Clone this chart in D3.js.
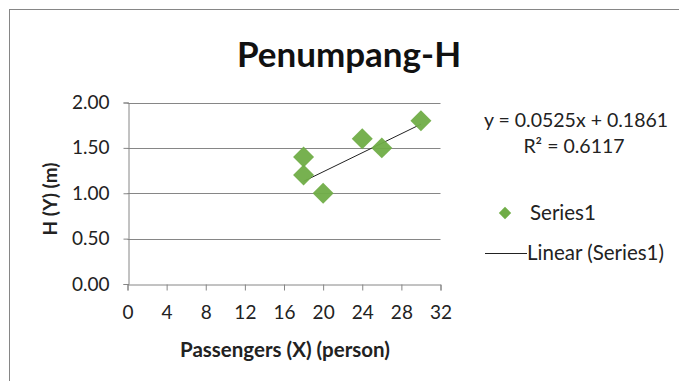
<!DOCTYPE html>
<html><head><meta charset="utf-8">
<script src="https://cdn.jsdelivr.net/npm/d3@7"></script>
<style>body{margin:0;background:#fff}svg{display:block}</style>
</head><body>
<svg id="c" width="679" height="381"></svg>
<script>
const passengers = [18, 18, 20, 24, 26, 30];
const heights = [1.4, 1.2, 1.0, 1.6, 1.5, 1.8];
const xTicks = [0, 4, 8, 12, 16, 20, 24, 28, 32];
const yTicks = [0, 0.5, 1.0, 1.5, 2.0];
const trendCoef = [0.0525, 0.1861]; // slope, intercept
const rSquared = ["0.6117"];
const trendRange = [18, 30];

const font = "Lato, 'Open Sans', sans-serif";
const svg = d3.select("#c");
svg.append("rect").attr("x", 9.5).attr("y", 9.5).attr("width", 700).attr("height", 400)
  .attr("fill", "#fff").attr("stroke", "#868686").attr("stroke-width", 1);

const x = d3.scaleLinear().domain([0, 32]).range([127.5, 440.5]);
const y = d3.scaleLinear().domain([0, 2]).range([284, 102.5]);

// gridlines
svg.append("g").selectAll("line").data(yTicks.filter(d => d > 0)).join("line")
  .attr("x1", x(0)).attr("x2", x(32)).attr("y1", d => Math.round(y(d)) + 0.5).attr("y2", d => Math.round(y(d)) + 0.5)
  .attr("stroke", "#868686").attr("stroke-width", 1);

const xAxis = svg.append("g").attr("transform", `translate(0,${Math.round(y(0)) + 0.5})`)
  .call(d3.axisBottom(x).tickValues(xTicks).tickSize(6).tickPadding(15).tickFormat(d3.format("d")));
const yAxis = svg.append("g").attr("transform", `translate(${Math.round(x(0)) + 0.5},0)`)
  .call(d3.axisLeft(y).tickValues(yTicks).tickSize(5).tickPadding(14).tickFormat(d3.format(".2f")));
[xAxis, yAxis].forEach(g => {
  g.select(".domain").attr("stroke", "#868686");
  g.selectAll(".tick line").attr("stroke", "#868686");
  g.selectAll("text").attr("fill", "#222").style("font-family", font).style("font-size", "19px");
});

// trend line
svg.append("line")
  .attr("x1", x(trendRange[0])).attr("y1", y(trendCoef[0] * trendRange[0] + trendCoef[1]))
  .attr("x2", x(trendRange[1])).attr("y2", y(trendCoef[0] * trendRange[1] + trendCoef[1]))
  .attr("stroke", "#222").attr("stroke-width", 1);

// points
const diamond = d3.symbol().type(d3.symbolSquare).size(220);
svg.append("g").selectAll("path").data(passengers.map((p, i) => [p, heights[i]])).join("path")
  .attr("d", diamond)
  .attr("transform", d => `translate(${x(d[0])},${y(d[1])}) rotate(45)`)
  .attr("fill", "#70AD47").attr("opacity", 0.95);

// title
svg.append("text").attr("x", 349).attr("y", 67).attr("text-anchor", "middle")
  .style("font-family", font).style("font-size", "35px").style("font-weight", "bold").attr("fill", "#111")
  .text("Penumpang-H");

// axis titles
svg.append("text").attr("x", 285).attr("y", 357).attr("text-anchor", "middle")
  .style("font-family", font).style("font-size", "20.5px").style("font-weight", "bold").attr("fill", "#222")
  .text("Passengers (X) (person)");
svg.append("text").attr("transform", "translate(57,199) rotate(-90)").attr("text-anchor", "middle")
  .style("font-family", font).style("font-size", "19px").style("font-weight", "bold").attr("fill", "#222")
  .text("H (Y) (m)");

// equation
svg.append("text").attr("x", 576).attr("y", 127).attr("text-anchor", "middle")
  .style("font-family", font).style("font-size", "19.5px").attr("fill", "#222")
  .text(`y = ${trendCoef[0]}x + ${trendCoef[1]}`);
svg.append("text").attr("x", 574).attr("y", 153).attr("text-anchor", "middle")
  .style("font-family", font).style("font-size", "19.5px").attr("fill", "#222")
  .text(`R² = ${rSquared[0]}`);

// legend
svg.append("path").attr("d", d3.symbol().type(d3.symbolSquare).size(76))
  .attr("transform", "translate(505,213) rotate(45)").attr("fill", "#70AD47");
svg.append("text").attr("x", 530).attr("y", 220)
  .style("font-family", font).style("font-size", "20.5px").attr("fill", "#222").text("Series1");
svg.append("line").attr("x1", 485).attr("x2", 527).attr("y1", 253.5).attr("y2", 253.5).attr("stroke", "#222");
svg.append("text").attr("x", 527).attr("y", 260)
  .style("font-family", font).style("font-size", "20.5px").attr("fill", "#222").text("Linear (Series1)");
</script>
</body></html>
